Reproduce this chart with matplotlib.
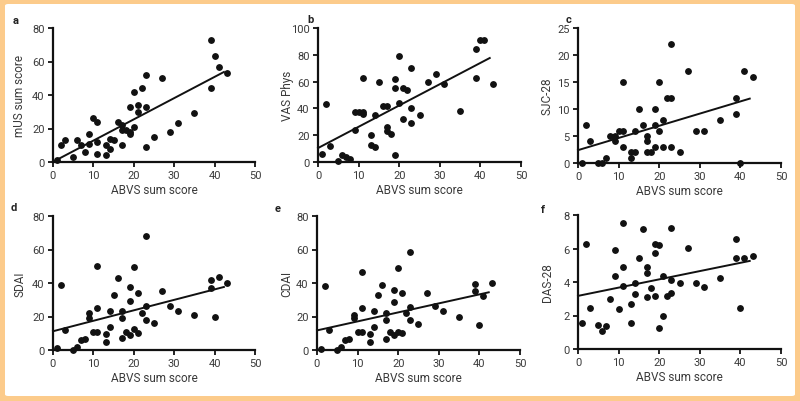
"""ABVS sum score vs. ultrasound / disease activity scores (6 panel scatter)."""
import numpy as np
import matplotlib
matplotlib.use('Agg')
import matplotlib.pyplot as plt
from matplotlib.patches import FancyBboxPatch

# ABVS sum score per patient (shared x for every panel)
abvs = [1, 2, 3, 5, 6, 7, 8, 9, 9, 10, 11, 11, 11, 13, 13, 14, 14, 15, 16,
        17, 17, 17, 18, 19, 19, 19, 20, 20, 21, 21, 22, 23, 23, 23, 25, 27,
        29, 31, 35, 39, 39, 40, 41, 43]

mus = [1, 10, 13, 3, 13, 10, 6, 17, 11, 26, 24, 12, 5, 4, 10, 14, 8, 13, 24,
       22, 10, 19, 19, 33, 18, 17, 21, 42, 34, 30, 44, 52, 33, 9, 15, 50,
       18, 23, 29, 73, 44, 63, 57, 53]
vas_phys = [6, 43, 12, 1, 5, 4, 2, 37.5, 24, 37.5, 37.5, 35.5, 63, 20, 13, 11,
            35, 60, 42, 42, 26, 23, 21, 62, 55, 5, 79, 44, 55, 32, 54, 70,
            40, 29, 35, 60, 66, 58, 38, 84, 63, 91, 91, 58]
sjc28 = [0, 7, 4, 0, 0, 1, 5, 5, 4, 6, 6, 15, 3, 2, 1, 2, 6, 10, 7, 5, 4, 2,
         2, 10, 7, 3, 15, 6, 8, 3, 12, 12, 22, 3, 2, 17, 6, 6, 8, 12, 9, 0,
         17, 16]
sdai = [1, 39, 12, 0, 1.5, 6, 6.5, 22, 19, 10.5, 50, 25, 10.5, 4.5, 9.5, 23,
        14, 33, 43, 23, 19, 7, 11, 29, 37.5, 9, 49.5, 12.7, 34, 10, 22, 68,
        26, 18, 16, 35, 26, 23, 21, 41.5, 37, 20, 43.5, 40]
cdai = [0.6, 38.5, 12, 0, 1.5, 6, 6.5, 21, 19, 10.5, 10.5, 46.5, 25, 4.5, 9.5,
        23, 14, 32.7, 38.7, 22, 18, 6.5, 11, 28.4, 36, 9, 49, 11, 34, 10, 22,
        58.3, 25.4, 18, 15.5, 34.3, 26, 23, 19.5, 39.3, 35.3, 15, 32.3, 40]
das28 = [1.58, 6.28, 2.46, 1.43, 1.09, 1.37, 2.97, 5.9, 4.34, 2.4, 7.52, 4.89,
         3.76, 2.69, 1.56, 3.94, 3.3, 5.45, 7.17, 4.89, 4.53, 3.09, 3.62,
         6.26, 5.74, 3.17, 6.22, 1.25, 4.38, 1.96, 3.15, 7.23, 4.1, 3.35,
         3.94, 6.02, 3.92, 3.72, 4.24, 6.55, 5.45, 2.44, 5.43, 5.54]

panel_letters = ['a', 'b', 'c', 'd', 'e', 'f']
y_labels = ['mUS sum score', 'VAS Phys', 'SJC-28', 'SDAI', 'CDAI', 'DAS-28']
y_series = [mus, vas_phys, sjc28, sdai, cdai, das28]
y_max = [80, 100, 25, 80, 80, 8]
y_step = [20, 20, 5, 20, 20, 2]

TXT = '#3a3a3a'
W, H = 800, 402

# axes boxes in pixels: (x of value 0, x of value 50, y top, y bottom)
boxes = [(53, 255, 29, 163), (318, 521, 29, 163), (578, 781, 29, 164),
         (53, 255, 217, 351), (317, 520, 217, 351), (578, 781, 216, 350)]
letter_xy = [(16, 21), (310, 20), (569, 20), (14, 208), (278, 209), (543, 210)]
ylabel_x = [20, 288, 547, 20, 287, 547]

plt.rcParams['font.family'] = ['Roboto', 'DejaVu Sans']
fig = plt.figure(figsize=(W / 100, H / 100), dpi=100)
fig.patch.set_facecolor('#fccb8b')
fig.patches.append(FancyBboxPatch((5 / W, 5 / H), 790 / W, 392 / H,
                                  boxstyle='round,pad=0,rounding_size=0.004',
                                  transform=fig.transFigure, facecolor='white',
                                  edgecolor='none', zorder=-10))

x = np.array(abvs, dtype=float)
for i, ys in enumerate(y_series):
    x0, x1, yt, yb = boxes[i]
    ax = fig.add_axes([x0 / W, 1 - yb / H, (x1 - x0) / W, (yb - yt) / H])
    ax.set_facecolor('none')
    y = np.array(ys, dtype=float)

    ax.plot(x, y, 'o', color='#111111', ms=3.9, clip_on=False, zorder=3)
    slope, icpt = np.polyfit(x, y, 1)
    xl = np.array([0, 42.3])
    ax.plot(xl, icpt + slope * xl, '-', color='#111111', lw=1.4,
            clip_on=False, zorder=2)

    ax.set_xlim(0, 50)
    ax.set_ylim(0, y_max[i])
    ax.set_xticks(range(0, 51, 10))
    ax.set_yticks(np.arange(0, y_max[i] + 0.01, y_step[i]))
    for s in ('top', 'right'):
        ax.spines[s].set_visible(False)
    for s in ('left', 'bottom'):
        ax.spines[s].set_linewidth(1.6)
        ax.spines[s].set_color('#111111')
    ax.tick_params(length=3.5, width=1.3, color='#111111', labelsize=8,
                   labelcolor=TXT, pad=2.5)
    ax.set_xlabel('ABVS sum score', fontsize=8.5, color=TXT, labelpad=2)

    fig.text(ylabel_x[i] / W, 1 - (yt + yb) / 2 / H, y_labels[i],
             rotation=90, ha='center', va='center', fontsize=8.5, color=TXT)
    lx, ly = letter_xy[i]
    fig.text(lx / W, 1 - ly / H, panel_letters[i], ha='center', va='center',
             fontsize=8, fontweight='bold', color='#222222')

fig.savefig('out.png', dpi=100, facecolor=fig.get_facecolor())
plt.close(fig)
